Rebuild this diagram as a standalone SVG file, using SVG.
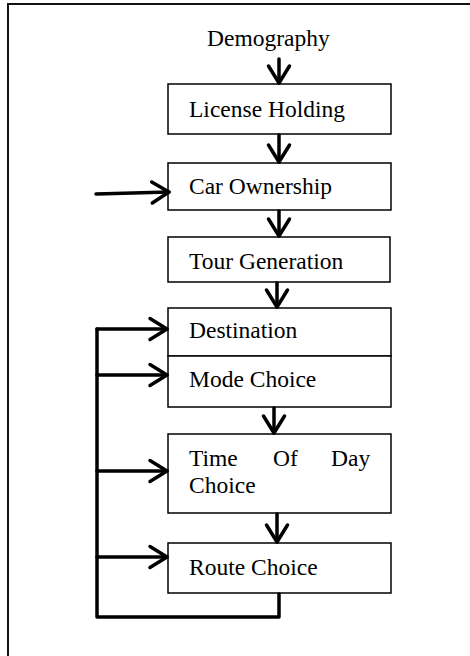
<svg xmlns="http://www.w3.org/2000/svg" width="470" height="656" viewBox="0 0 470 656">
  <style>
    .frame { fill: none; stroke: #111; stroke-width: 2; }
    .box { fill: #fff; stroke: #000; stroke-width: 1.5; }
    .lbl { font-family: "Liberation Serif", "Times New Roman", serif; font-size: 23.5px; fill: #000; }
    .wire { fill: none; stroke: #000; stroke-width: 3.5; stroke-linecap: round; stroke-linejoin: round; }
    .arr { marker-end: url(#vee); }
  </style>
  <defs>
    <marker id="vee" markerUnits="userSpaceOnUse" viewBox="-20 -13 24 26" refX="0" refY="0" markerWidth="24" markerHeight="26" orient="auto" overflow="visible">
      <path d="M -17 -10.5 L 0 0 L -17 10.5" fill="none" stroke="#000" stroke-width="3.5" stroke-linecap="round" stroke-linejoin="round"/>
    </marker>
  </defs>

  <rect width="470" height="656" fill="#fff"/>
  <!-- outer frame, open to the right and bottom -->
  <rect class="frame" x="8" y="4" width="500" height="700"/>

  <g id="demography">
    <text class="lbl" x="207" y="46">Demography</text>
  </g>

  <g id="license-holding">
    <rect class="box" x="168" y="84" width="223" height="50"/>
    <text class="lbl" x="189" y="117">License Holding</text>
  </g>

  <g id="car-ownership">
    <rect class="box" x="168" y="163" width="223" height="47"/>
    <text class="lbl" x="189" y="194">Car Ownership</text>
  </g>

  <g id="tour-generation">
    <rect class="box" x="168" y="237" width="222" height="45"/>
    <text class="lbl" x="189" y="269">Tour Generation</text>
  </g>

  <g id="destination">
    <rect class="box" x="168" y="308" width="223" height="48"/>
    <text class="lbl" x="189" y="338">Destination</text>
  </g>

  <g id="mode-choice">
    <rect class="box" x="168" y="356" width="223" height="51"/>
    <text class="lbl" x="189" y="387">Mode Choice</text>
  </g>

  <g id="time-of-day">
    <rect class="box" x="168" y="434" width="223" height="79"/>
    <text class="lbl" y="466"><tspan x="189">Time</tspan><tspan x="273">Of</tspan><tspan x="331">Day</tspan></text>
    <text class="lbl" x="189" y="493">Choice</text>
  </g>

  <g id="route-choice">
    <rect class="box" x="168" y="543" width="223" height="50"/>
    <text class="lbl" x="189" y="575">Route Choice</text>
  </g>

  <g id="connectors">
    <path class="wire arr" d="M 279 59 L 279 83"/>
    <path class="wire arr" d="M 279 135 L 279 162"/>
    <path class="wire arr" d="M 96 194 L 169 192"/>
    <path class="wire arr" d="M 279 211 L 279 236"/>
    <path class="wire arr" d="M 277 283 L 277 307"/>
    <path class="wire arr" d="M 274 408 L 274 433"/>
    <path class="wire arr" d="M 277 514 L 277 542"/>
    <!-- feedback loop from route choice back to the choice models -->
    <path class="wire" d="M 279 594 L 279 617 L 97 617 L 97 329"/>
    <path class="wire arr" d="M 97 329 L 167 329"/>
    <path class="wire arr" d="M 97 375 L 167 375"/>
    <path class="wire arr" d="M 97 471 L 167 471"/>
    <path class="wire arr" d="M 97 557 L 167 557"/>
  </g>
</svg>
